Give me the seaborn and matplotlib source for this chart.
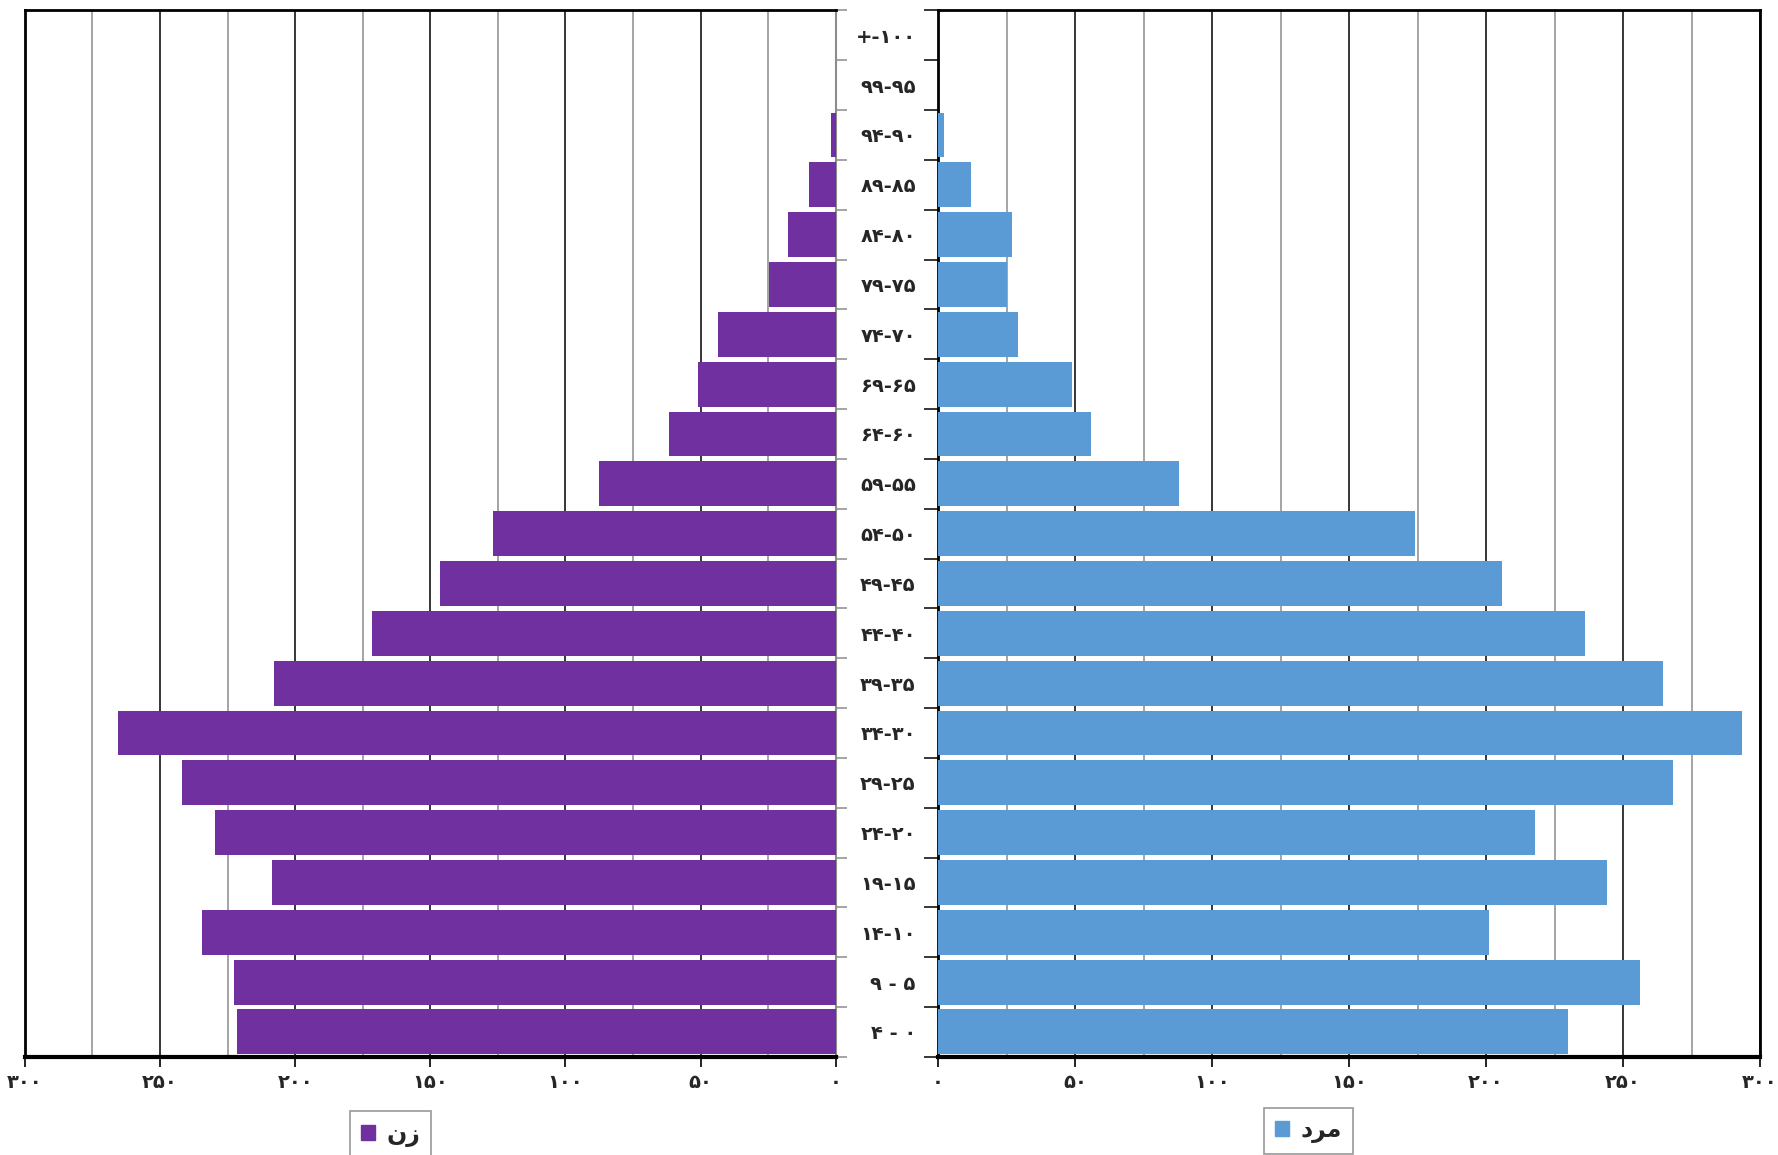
import numpy as np
import pandas as pd
import seaborn as sns
import matplotlib.pyplot as plt
from matplotlib.patches import Patch
from matplotlib.ticker import MultipleLocator, FixedLocator


# age groups, top to bottom (visual order of the RTL labels)
age_groups = ["+-۱۰۰", "۹۹-۹۵", "۹۴-۹۰", "۸۹-۸۵", "۸۴-۸۰", "۷۹-۷۵", "۷۴-۷۰",
              "۶۹-۶۵", "۶۴-۶۰", "۵۹-۵۵", "۵۴-۵۰", "۴۹-۴۵", "۴۴-۴۰", "۳۹-۳۵",
              "۳۴-۳۰", "۲۹-۲۵", "۲۴-۲۰", "۱۹-۱۵", "۱۴-۱۰", "۹ - ۵", "۴ - ۰"]

female = [0, 0, 1.7, 9.7, 17.6, 24.8, 43.6, 50.8, 61.7, 87.7, 126.7, 146.5,
          171.6, 207.7, 265.6, 241.7, 229.5, 208.6, 234.6, 222.8, 221.6]
male = [0, 0, 2, 12, 26.9, 25.2, 29, 48.8, 55.9, 88.1, 174.2, 206, 236.2,
        264.4, 293.3, 268.1, 218, 244.1, 201.1, 256.1, 230]

tick_values = [0, 50, 100, 150, 200, 250, 300]
tick_labels = ["۰", "۵۰", "۱۰۰", "۱۵۰", "۲۰۰", "۲۵۰", "۳۰۰"]

# legend names, already in visual (left to right) order with shaped glyphs
female_name = "نز"
male_name = "\u062f\ufeae\ufee3"

female_color = "#7030a0"
male_color = "#5b9bd5"

df = pd.DataFrame({"age": age_groups, "female": female, "male": male})

sns.set_style("white")
plt.rcParams["font.family"] = ["DejaVu Sans"]
plt.rcParams["font.weight"] = "bold"

fig = plt.figure(figsize=(17.78, 11.55), dpi=100)
ax_f = fig.add_axes([0.014, 0.085, 0.456, 0.906])
ax_m = fig.add_axes([0.5276, 0.085, 0.4623, 0.906])

sns.barplot(data=df, x="female", y="age", order=age_groups, orient="h",
            color=female_color, saturation=1, width=0.9, ax=ax_f,
            linewidth=0, zorder=3)
sns.barplot(data=df, x="male", y="age", order=age_groups, orient="h",
            color=male_color, saturation=1, width=0.9, ax=ax_m,
            linewidth=0, zorder=3)

n = len(age_groups)
bounds = np.arange(n + 1) - 0.5

for ax in (ax_f, ax_m):
    ax.set_xlim(0, 300)
    ax.set_ylim(n - 0.5, -0.5)
    ax.set_xlabel("")
    ax.set_ylabel("")
    ax.xaxis.set_major_locator(FixedLocator(tick_values))
    ax.set_xticklabels(tick_labels, fontsize=14, fontweight="bold")
    ax.xaxis.set_minor_locator(MultipleLocator(25))
    ax.grid(which="major", axis="x", color="black", linewidth=1.1, zorder=0)
    ax.grid(which="minor", axis="x", color="#8c8c8c", linewidth=1.1, zorder=0)
    ax.tick_params(axis="x", which="major", bottom=True, length=7, width=1.2,
                   pad=5, direction="out", color="black")
    ax.tick_params(axis="x", which="minor", bottom=False)
    ax.yaxis.set_minor_locator(FixedLocator(bounds))
    for s in ax.spines.values():
        s.set_visible(True)
        s.set_color("black")
        s.set_linewidth(2)
    ax.spines["bottom"].set_linewidth(3)
    ax.set_axisbelow(True)

# women: bars grow to the left
ax_f.invert_xaxis()
ax_f.spines["right"].set_color("#8c8c8c")
ax_f.spines["right"].set_linewidth(1.5)
ax_f.yaxis.tick_right()
ax_f.set_yticklabels([])
ax_f.tick_params(axis="y", which="major", length=0)
ax_f.tick_params(axis="y", which="minor", right=True, left=False, length=8,
                 width=1.1, color="#8c8c8c", direction="out")

# men: age labels on the left spine
ax_m.set_yticks(range(n))
ax_m.set_yticklabels(age_groups, fontsize=14, fontweight="bold")
ax_m.tick_params(axis="y", which="major", length=0, pad=16)
ax_m.tick_params(axis="y", which="minor", left=True, length=10, width=1.1,
                 color="black", direction="out")

leg_kw = dict(loc="upper left", frameon=True, fancybox=False, handlelength=0.6,
              handleheight=0.6, handletextpad=0.5, borderpad=0.45,
              borderaxespad=0, prop={"size": 17, "weight": "bold"},
              edgecolor="#7f7f7f")
lf = fig.legend(handles=[Patch(color=female_color, label=female_name)],
                bbox_to_anchor=(0.197, 0.038), **leg_kw)
lf.get_frame().set_linewidth(1.2)
lm = fig.legend(handles=[Patch(color=male_color, label=male_name)],
                bbox_to_anchor=(0.711, 0.041), **leg_kw)
lm.get_frame().set_linewidth(1.2)

plt.savefig("out.png", dpi=100)
